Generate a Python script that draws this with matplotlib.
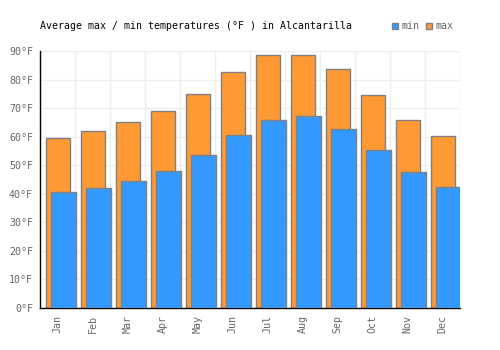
import matplotlib.pyplot as plt
import numpy as np

months = ["Jan", "Feb", "Mar", "Apr", "May", "Jun",
          "Jul", "Aug", "Sep", "Oct", "Nov", "Dec"]
t_max = [59.4, 62.0, 65.1, 69.0, 74.8, 82.6, 88.8, 88.6, 83.6, 74.5, 65.7, 60.1]
t_min = [40.5, 42.0, 44.4, 47.9, 53.5, 60.5, 65.7, 67.1, 62.6, 55.2, 47.5, 42.3]
y_ticks = [0, 10, 20, 30, 40, 50, 60, 70, 80, 90]

plt.rcParams['font.family'] = ['DejaVu Sans Mono']

fig = plt.figure(figsize=(5, 3.5), dpi=100)
ax = fig.add_axes([0.08, 0.12, 0.84, 0.734])

x = np.arange(len(months))
ax.bar(x + 0.01, t_max, width=0.68, color="#ff9933", edgecolor="#808080",
       linewidth=1, zorder=2, label="max")
ax.bar(x + 0.17, t_min, width=0.71, color="#3399ff", edgecolor="#808080",
       linewidth=1, zorder=3, label="min")

ax.set_xlim(-0.5, 11.5)
ax.set_ylim(0, 90)
ax.set_yticks(y_ticks)
ax.set_yticklabels([f"{v}°F" for v in y_ticks], color="#666666", fontsize=7.2)
ax.set_xticks(x)
ax.set_xticklabels(months, rotation=90, color="#666666", fontsize=7.2)
ax.set_xticks(np.arange(-0.5, 12, 1), minor=True)
ax.tick_params(axis="both", which="both", length=0, pad=5)
ax.grid(True, axis="y", color="#eeeeee", linewidth=1, zorder=0)
ax.grid(True, axis="x", which="minor", color="#eeeeee", linewidth=1, zorder=0)
ax.grid(False, axis="x", which="major")
ax.set_axisbelow(True)

for s in ["top", "right"]:
    ax.spines[s].set_visible(False)
for s in ["left", "bottom"]:
    ax.spines[s].set_color("black")
    ax.spines[s].set_linewidth(1)

fig.text(0.08, 0.926, "Average max / min temperatures (°F ) in Alcantarilla",
         fontsize=7.1, color="black", va="center")

# legend
fig.patches.append(plt.Rectangle((0.783, 0.918), 0.012, 0.017, transform=fig.transFigure,
                                 facecolor="#3399ff", edgecolor="#808080", lw=1))
fig.text(0.802, 0.926, "min", fontsize=7.2, color="#666666", va="center")
fig.patches.append(plt.Rectangle((0.852, 0.918), 0.012, 0.017, transform=fig.transFigure,
                                 facecolor="#ff9933", edgecolor="#808080", lw=1))
fig.text(0.872, 0.926, "max", fontsize=7.2, color="#666666", va="center")

fig.savefig("out.png", dpi=100)
